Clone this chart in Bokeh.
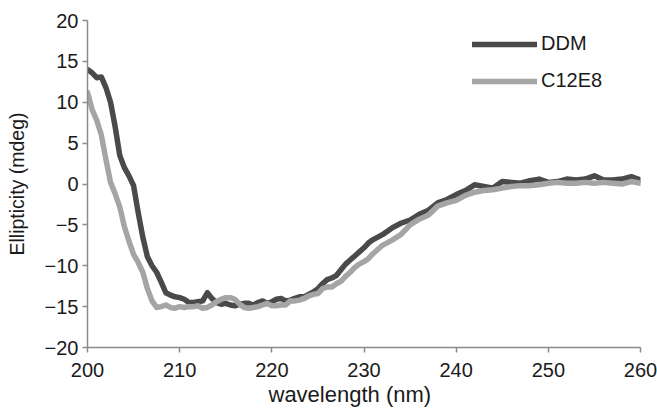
from bokeh.plotting import figure
from bokeh.models import Range1d, FixedTicker, Legend, LegendItem, Title
from bokeh.embed import file_html
from bokeh.resources import INLINE

wavelength = [200, 200.5, 201, 201.5, 202, 202.5, 203, 203.5, 204, 204.5, 205, 205.5,
              206, 206.5, 207, 207.5, 208, 208.5, 209, 209.5, 210, 210.5, 211, 211.5,
              212, 212.5, 213, 213.5, 214, 214.5, 215, 215.5, 216, 216.5, 217, 217.5,
              218, 218.5, 219, 219.5, 220, 220.5, 221, 221.5, 222, 222.5, 223, 223.5,
              224, 224.5, 225, 225.5, 226, 226.5, 227, 227.5, 228, 228.5, 229, 229.5,
              230, 230.5, 231, 232, 233, 234, 235, 236, 237, 238, 239, 240, 241, 242,
              243, 244, 245, 246, 247, 248, 249, 250, 251, 252, 253, 254, 255, 256,
              257, 258, 259, 260]

ddm = [14.0, 13.6, 13.0, 13.1, 11.8, 10.0, 7.0, 3.5, 2.0, 1.0, -0.2, -3.5,
       -6.5, -8.9, -10.0, -10.8, -12.0, -13.3, -13.6, -13.8, -13.9, -14.1, -14.5, -14.5,
       -14.4, -14.3, -13.3, -14.0, -14.5, -14.7, -14.6, -14.8, -14.9, -14.7, -14.6, -14.6,
       -14.8, -14.5, -14.3, -14.6, -14.4, -14.1, -14.0, -14.3, -14.2, -14.0, -13.8, -13.8,
       -13.5, -13.2, -12.8, -12.2, -11.7, -11.5, -11.2, -10.5, -9.8, -9.3, -8.8, -8.3,
       -7.8, -7.2, -6.8, -6.2, -5.4, -4.8, -4.4, -3.7, -3.2, -2.3, -1.9, -1.3, -0.8, -0.1,
       -0.3, -0.5, 0.3, 0.2, 0.1, 0.4, 0.6, 0.2, 0.3, 0.6, 0.5, 0.6, 1.0, 0.5,
       0.5, 0.6, 0.9, 0.5]

c12e8 = [11.2, 9.1, 7.8, 6.0, 3.0, 0.2, -1.2, -2.8, -5.2, -7.0, -8.6, -9.6,
         -10.8, -12.8, -14.3, -15.1, -15.0, -14.8, -15.1, -15.2, -15.0, -15.1, -15.0, -15.0,
         -14.9, -15.2, -15.1, -14.8, -14.4, -14.1, -13.9, -13.9, -14.1, -14.7, -15.1, -15.2,
         -15.1, -15.0, -14.8, -14.6, -14.9, -14.9, -14.8, -14.8, -14.3, -14.3, -14.2, -14.0,
         -13.7, -13.5, -13.4, -12.8, -12.6, -12.6, -12.2, -11.9, -11.3, -10.8, -10.2, -9.8,
         -9.5, -9.1, -8.5, -7.5, -6.9, -6.2, -5.0, -4.3, -3.8, -2.7, -2.3, -2.0, -1.4, -1.0,
         -0.8, -0.7, -0.5, -0.3, -0.2, -0.2, -0.1, 0.1, 0.2, 0.1, 0.1, 0.2, 0.1, 0.2,
         0.1, 0.0, 0.3, 0.1]

x_ticks = [200, 210, 220, 230, 240, 250, 260]
y_ticks = [-20, -15, -10, -5, 0, 5, 10, 15, 20]
series_names = ["DDM", "C12E8"]
series_colors = ["#4a4a4a", "#a5a5a5"]
x_title = "wavelength (nm)"
y_title = "Ellipticity (mdeg)"

FONT = "Liberation Sans"
TXT = "#1a1a1a"

p = figure(width=657, height=409, output_backend="svg", toolbar_location=None,
           x_range=Range1d(200, 260), y_range=Range1d(-20, 20),
           min_border_left=87, min_border_right=17, min_border_top=20, min_border_bottom=62)
p.outline_line_color = None
p.xgrid.grid_line_color = None
p.ygrid.grid_line_color = None
p.background_fill_color = "white"

r1 = p.line(wavelength, ddm, line_color=series_colors[0], line_width=5.5, line_join="round", line_cap="round")
r2 = p.line(wavelength, c12e8, line_color=series_colors[1], line_width=5.5, line_join="round", line_cap="round")

for ax in (p.xaxis[0], p.yaxis[0]):
    ax.axis_line_color = "#8a8a8a"
    ax.axis_line_width = 1.5
    ax.major_tick_line_color = "#8a8a8a"
    ax.major_tick_line_width = 1.5
    ax.major_tick_in = 0
    ax.major_tick_out = 5
    ax.minor_tick_line_color = None
    ax.major_label_text_font = FONT
    ax.major_label_text_font_size = "20px"
    ax.major_label_text_color = TXT

p.xaxis.ticker = FixedTicker(ticks=x_ticks)
p.yaxis.ticker = FixedTicker(ticks=y_ticks)
p.xaxis.major_label_standoff = 10
p.yaxis.major_label_standoff = 4

p.yaxis.axis_label = y_title
p.yaxis.axis_label_text_font = FONT
p.yaxis.axis_label_text_font_size = "19.5px"
p.yaxis.axis_label_text_font_style = "normal"
p.yaxis.axis_label_text_color = TXT
p.yaxis.axis_label_standoff = 14

xt = Title(text=x_title, align="left", offset=181, text_font=FONT,
           text_font_size="22px", text_font_style="normal", text_color=TXT,
           standoff=0)
p.add_layout(xt, "below")

legend = Legend(items=[LegendItem(label=series_names[0], renderers=[r1]),
                       LegendItem(label=series_names[1], renderers=[r2])],
                location=(385, 255), orientation="vertical",
                glyph_width=65, glyph_height=20, label_height=20, spacing=14,
                label_standoff=4, padding=0, margin=0,
                border_line_color=None, background_fill_alpha=0,
                label_text_font=FONT, label_text_font_size="20px",
                label_text_color=TXT)
p.add_layout(legend, "center")

open("out.html", "w").write(file_html(p, INLINE))
